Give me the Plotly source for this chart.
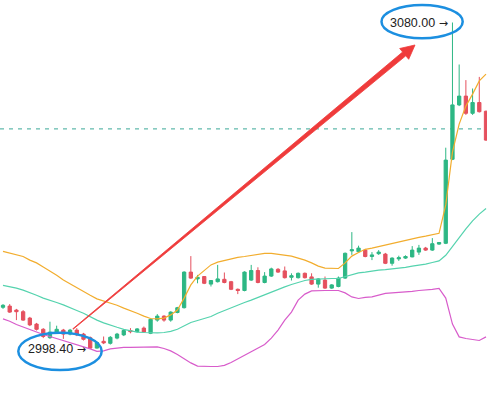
import plotly.graph_objects as go

W, H = 487, 394

# candle index (time order)
idx = list(range(73))

opens = [3008.8, 3009.1, 3008.1, 3007.7, 3006.1, 3004.6, 3003.3, 3001.2, 3002.6, 3003.1,
         3002.1, 3003.1, 3002.1, 3001.2, 2998.6, 3000.3, 2999.8, 3001.1, 3001.9, 3003.0,
         3002.7, 3003.6, 3002.3, 3005.6, 3006.6, 3005.6, 3007.5, 3008.7, 3017.6, 3015.9,
         3016.5, 3014.6, 3015.2, 3015.8, 3015.2, 3013.3, 3013.0, 3015.6, 3018.0, 3015.0,
         3016.6, 3018.3, 3017.9, 3016.3, 3016.2, 3017.3, 3016.4, 3014.6, 3015.6, 3013.6,
         3014.0, 3016.1, 3022.9, 3022.7, 3023.1, 3021.5, 3022.2, 3022.1, 3019.8, 3020.9,
         3021.1, 3021.4, 3022.6, 3023.6, 3023.1, 3024.6, 3024.8, 3045.8, 3059.4, 3061.6,
         3057.3, 3060.0, 3057.8]
highs = [3009.6, 3009.6, 3008.4, 3008.1, 3006.4, 3004.9, 3003.6, 3005.2, 3004.2, 3003.4,
         3003.4, 3003.6, 3002.4, 3001.5, 3000.3, 3001.5, 3001.6, 3002.4, 3003.3, 3003.6,
         3003.6, 3004.0, 3006.0, 3007.1, 3006.8, 3007.8, 3008.9, 3017.8, 3021.6, 3016.9,
         3016.6, 3015.6, 3019.4, 3017.5, 3015.4, 3013.5, 3017.8, 3019.4, 3018.8, 3017.6,
         3018.7, 3018.6, 3019.0, 3017.3, 3017.5, 3017.5, 3017.3, 3016.1, 3016.5, 3014.6,
         3016.5, 3022.5, 3027.6, 3024.2, 3023.4, 3022.6, 3023.1, 3022.4, 3021.3, 3021.7,
         3021.8, 3024.1, 3024.4, 3023.9, 3026.1, 3025.1, 3048.7, 3080.0, 3069.5, 3065.6,
         3063.5, 3066.4, 3058.0]
lows = [3008.4, 3007.4, 3005.6, 3005.4, 3004.1, 3003.0, 3001.1, 3000.9, 3002.3, 3000.9,
        3001.8, 3001.6, 3000.5, 2998.4, 2998.5, 2999.6, 2999.5, 3000.8, 3001.6, 3002.3,
        3002.5, 3002.4, 3002.1, 3005.2, 3005.2, 3005.2, 3007.3, 3008.5, 3015.9, 3014.8,
        3014.6, 3014.0, 3015.0, 3014.8, 3013.1, 3012.1, 3012.8, 3015.4, 3014.8, 3014.8,
        3016.4, 3017.4, 3016.0, 3015.5, 3016.0, 3016.0, 3014.4, 3013.7, 3013.4, 3013.4,
        3013.8, 3015.9, 3021.9, 3022.5, 3021.3, 3020.6, 3021.9, 3019.6, 3019.2, 3020.4,
        3020.9, 3021.3, 3021.9, 3022.9, 3022.9, 3024.4, 3024.6, 3045.6, 3059.1, 3056.9,
        3056.9, 3057.5, 3050.4]
closes = [3009.3, 3007.6, 3007.7, 3005.6, 3004.4, 3003.3, 3001.5, 3002.6, 3003.3, 3002.1,
          3003.1, 3001.9, 3000.8, 2998.6, 3000.0, 2999.9, 3001.3, 3002.1, 3003.0, 3002.7,
          3003.4, 3002.6, 3005.8, 3006.6, 3005.6, 3007.6, 3008.7, 3017.6, 3016.1, 3016.3,
          3014.8, 3015.5, 3015.9, 3015.0, 3013.3, 3013.0, 3017.6, 3018.0, 3015.0, 3016.6,
          3018.4, 3017.6, 3016.2, 3016.7, 3017.3, 3016.2, 3014.6, 3015.9, 3013.6, 3014.4,
          3016.1, 3022.3, 3023.2, 3023.6, 3021.5, 3021.9, 3022.6, 3019.8, 3021.1, 3021.2,
          3021.5, 3023.1, 3023.6, 3023.1, 3024.7, 3025.0, 3045.6, 3059.4, 3061.6, 3057.3,
          3060.0, 3057.7, 3050.6]

ma_line = [3022.8, 3022.4, 3022.0, 3021.5, 3020.6, 3019.9, 3018.9, 3017.9, 3016.8, 3015.6,
           3014.6, 3013.6, 3012.6, 3011.8, 3010.9, 3010.4, 3009.9, 3009.3, 3008.6, 3008.0,
           3007.3, 3006.6, 3006.0, 3005.9, 3006.1, 3006.9, 3008.1, 3011.1, 3014.4, 3016.6,
           3018.1, 3019.4, 3020.1, 3020.5, 3020.9, 3021.3, 3021.5, 3021.8, 3022.0, 3022.3,
           3022.3, 3022.1, 3021.9, 3021.6, 3021.1, 3020.6, 3019.9, 3019.1, 3018.6, 3018.5,
           3018.5, 3019.9, 3021.6, 3022.5, 3023.3, 3023.6, 3024.0, 3024.4, 3024.8, 3025.1,
           3025.5, 3025.9, 3026.3, 3026.6, 3026.9, 3027.3, 3034.4, 3047.6, 3054.6, 3059.1,
           3062.1, 3065.4, 3067.1]
mid_line = [3014.3, 3014.0, 3013.6, 3013.1, 3012.5, 3011.8, 3011.1, 3010.6, 3010.0, 3009.4,
            3008.6, 3008.0, 3007.3, 3006.4, 3005.6, 3004.9, 3004.3, 3003.8, 3003.3, 3002.9,
            3002.6, 3002.5, 3002.4, 3002.4, 3002.5, 3002.8, 3003.3, 3004.1, 3005.0, 3005.5,
            3006.0, 3006.5, 3007.3, 3008.0, 3008.6, 3009.4, 3010.0, 3010.6, 3011.3, 3012.0,
            3012.6, 3013.3, 3013.9, 3014.5, 3015.1, 3015.5, 3015.8, 3015.9, 3015.9, 3016.0,
            3016.0, 3016.5, 3017.0, 3017.4, 3017.6, 3017.9, 3018.1, 3018.2, 3018.4, 3018.5,
            3018.8, 3019.1, 3019.3, 3019.6, 3020.0, 3020.4, 3021.8, 3024.1, 3026.3, 3028.4,
            3030.4, 3032.1, 3033.5]
low_line = [3005.9, 3005.3, 3004.5, 3003.9, 3003.3, 3002.5, 3002.0, 3001.5, 3001.0, 3000.5,
            3000.0, 2999.5, 2999.0, 2998.4, 2997.8, 2997.9, 2998.4, 2998.6, 2998.8, 2998.8,
            2998.8, 2998.8, 2998.9, 2998.9, 2998.5, 2997.9, 2997.0, 2995.9, 2994.9, 2994.1,
            2994.0, 2994.0, 2994.0, 2994.3, 2995.0, 2995.9, 2996.6, 2997.6, 2998.6, 2999.5,
            3001.1, 3003.1, 3005.6, 3007.6, 3010.6, 3012.1, 3012.9, 3013.0, 3013.0, 3013.0,
            3013.0, 3012.4, 3011.4, 3011.0, 3011.3, 3011.4, 3011.8, 3012.3, 3012.4, 3012.5,
            3012.6, 3012.8, 3013.0, 3013.1, 3013.3, 3013.5, 3011.1, 3004.6, 3001.4, 3001.0,
            3000.8, 3000.5, 3001.4]

ref_level = 3053.4
max_label = "3080.00"
min_label = "2998.40"
max_idx = 67
min_idx = 13

GREEN = "#2db784"
RED = "#e5505e"

fig = go.Figure()
fig.add_trace(go.Candlestick(
    x=idx, open=opens, high=highs, low=lows, close=closes,
    increasing=dict(line=dict(color=GREEN, width=1), fillcolor=GREEN),
    decreasing=dict(line=dict(color=RED, width=1), fillcolor=RED),
    whiskerwidth=0, showlegend=False, hoverinfo="skip"))

fig.add_trace(go.Scatter(x=idx, y=ma_line, mode="lines",
                         line=dict(color="#f2ad2e", width=1.2), showlegend=False, hoverinfo="skip"))
fig.add_trace(go.Scatter(x=idx, y=mid_line, mode="lines",
                         line=dict(color="#55d3ae", width=1.2), showlegend=False, hoverinfo="skip"))
fig.add_trace(go.Scatter(x=idx, y=low_line, mode="lines",
                         line=dict(color="#d85ccb", width=1.2), showlegend=False, hoverinfo="skip"))


def px(x):
    return x / W


def py(y):
    return 1 - y / H


shapes = [
    dict(type="line", xref="paper", yref="y", x0=0, x1=1, y0=ref_level, y1=ref_level,
         line=dict(color="#3aa898", width=1, dash="4px,5px"), layer="below"),
    dict(type="circle", xref="paper", yref="paper",
         x0=px(381.5), x1=px(462.7), y0=py(38.3), y1=py(5),
         line=dict(color="#1c8fe0", width=2.5)),
    dict(type="circle", xref="paper", yref="paper",
         x0=px(18.3), x1=px(101.7), y0=py(370), y1=py(332.7),
         line=dict(color="#1c8fe0", width=2.5)),
]

# tapered red arrow
pts = [(73.2, 329.2), (405.8, 55.8), (408.7, 59.3), (415.0, 45.0),
       (399.7, 48.5), (402.6, 52.0), (72.8, 328.8)]
path = "M " + " L ".join(f"{px(x):.5f},{py(y):.5f}" for x, y in pts) + " Z"
shapes.append(dict(type="path", xref="paper", yref="paper", path=path,
                   fillcolor="#ef3b3b", line=dict(color="#ef3b3b", width=0.8)))

ARROW = '<span style="font-family:DejaVu Sans;font-size:11px">\u2192</span>'
annotations = [
    dict(x=max_idx, y=highs[max_idx], xref="x", yref="y", text=max_label + " " + ARROW,
         showarrow=False, xanchor="right", yanchor="middle", xshift=-2,
         font=dict(family="Liberation Sans, Arial", size=12.5, color="#222")),
    dict(x=min_idx, y=lows[min_idx], xref="x", yref="y", text=min_label + " " + ARROW,
         showarrow=False, xanchor="right", yanchor="middle", xshift=-2,
         font=dict(family="Liberation Sans, Arial", size=12.5, color="#222")),
]

fig.update_layout(
    width=W, height=H, margin=dict(l=0, r=0, t=0, b=0),
    paper_bgcolor="white", plot_bgcolor="white",
    xaxis=dict(range=[-0.447, 72.149], visible=False, rangeslider=dict(visible=False)),
    yaxis=dict(range=[2987.125, 3085.625], visible=False),
    shapes=shapes, annotations=annotations, boxgap=0.3,
)

fig.write_html("out.html", config={"displayModeBar": False},
               post_script="document.body.style.margin='0';")
